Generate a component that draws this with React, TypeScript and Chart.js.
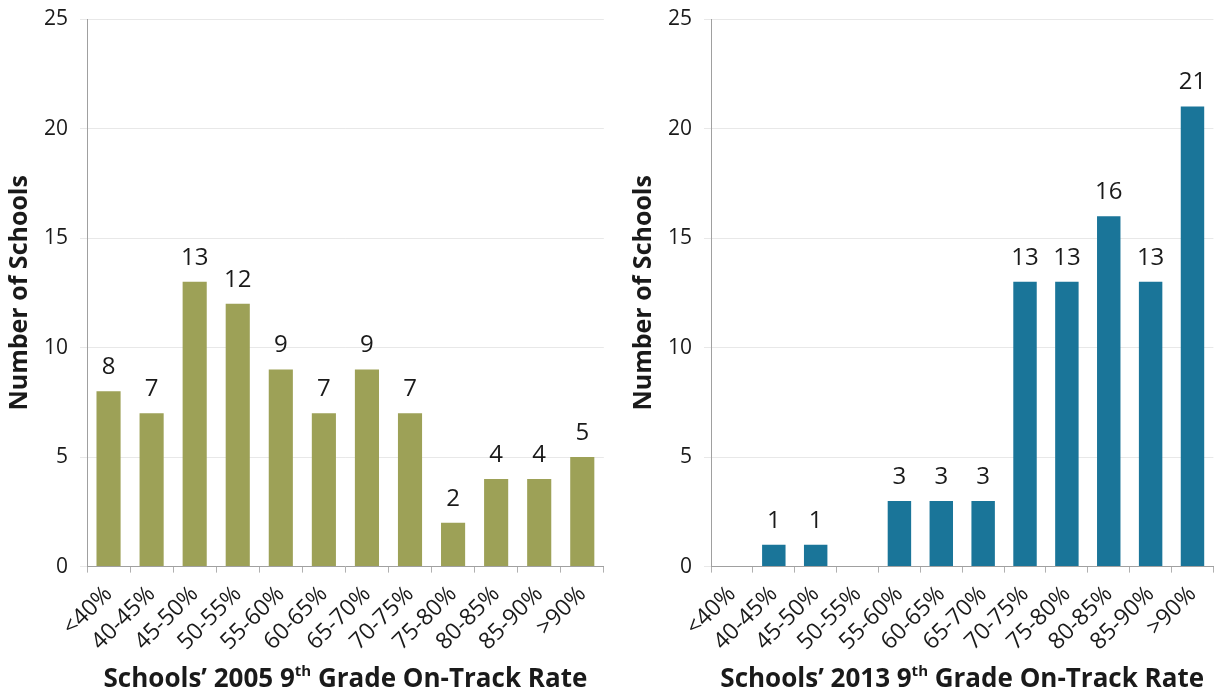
import React, { useEffect, useRef } from "react";
import { Chart, registerables } from "chart.js";

Chart.register(...registerables);

const categories = ["<40%", "40-45%", "45-50%", "50-55%", "55-60%", "60-65%", "65-70%", "70-75%", "75-80%", "80-85%", "85-90%", ">90%"];
const values2005 = [8, 7, 13, 12, 9, 7, 9, 7, 2, 4, 4, 5];
const values2013 = [0, 1, 1, 0, 3, 3, 3, 13, 13, 16, 13, 21];
const yTicks = [0, 5, 10, 15, 20, 25];
const yTitle = "Number of Schools";
const title2005 = ["Schools’ 2005 9", "th", " Grade On-Track Rate"];
const title2013 = ["Schools’ 2013 9", "th", " Grade On-Track Rate"];

const FONT = "'Open Sans', Lato, sans-serif";

const labelPlugin = {
  id: "valueLabels",
  afterDatasetsDraw(chart: any) {
    const ctx = chart.ctx;
    const meta = chart.getDatasetMeta(0);
    const data = chart.data.datasets[0].data;
    ctx.save();
    ctx.font = `24px ${FONT}`;
    ctx.fillStyle = "#1a1a1a";
    ctx.textAlign = "center";
    ctx.textBaseline = "bottom";
    meta.data.forEach((bar: any, i: number) => {
      const v = data[i];
      if (!v) return;
      ctx.fillText(String(v), bar.x, bar.y - 12);
    });
    ctx.restore();
  },
};

const titlePlugin = {
  id: "xTitle",
  afterDraw(chart: any) {
    const parts = chart.options.plugins.xTitle.parts as string[];
    const ctx = chart.ctx;
    const area = chart.chartArea;
    ctx.save();
    const big = `bold 26px ${FONT}`;
    const small = `bold 15px ${FONT}`;
    ctx.font = big;
    const w0 = ctx.measureText(parts[0]).width;
    const w2 = ctx.measureText(parts[2]).width;
    ctx.font = small;
    const w1 = ctx.measureText(parts[1]).width;
    const total = w0 + w1 + w2;
    let x = (area.left + area.right) / 2 - total / 2;
    const y = chart.height - 5;
    ctx.fillStyle = "#1a1a1a";
    ctx.textAlign = "left";
    ctx.textBaseline = "alphabetic";
    ctx.font = big;
    ctx.fillText(parts[0], x, y);
    x += w0;
    ctx.font = small;
    ctx.fillText(parts[1], x, y - 11);
    x += w1;
    ctx.font = big;
    ctx.fillText(parts[2], x, y);
    ctx.restore();
  },
};

function BarChart({ values, color, titleParts, padLeft, padRight }: { values: number[]; color: string; titleParts: string[]; padLeft: number; padRight: number }) {
  const ref = useRef<HTMLCanvasElement>(null);
  useEffect(() => {
    const chart = new Chart(ref.current!, {
      type: "bar",
      data: {
        labels: categories,
        datasets: [
          {
            data: values,
            backgroundColor: color,
            categoryPercentage: 1,
            barPercentage: 0.56,
          },
        ],
      },
      options: {
        animation: false,
        responsive: false,
        layout: { padding: { left: padLeft, right: padRight, top: 0, bottom: 28 } },
        plugins: {
          legend: { display: false },
          tooltip: { enabled: false },
          // @ts-ignore
          xTitle: { parts: titleParts },
        },
        scales: {
          x: {
            offset: true,
            grid: { display: true, drawOnChartArea: false, drawTicks: true, tickLength: 6, color: "#b0b0b0", offset: true },
            border: { display: true, color: "#a0a0a0" },
            ticks: {
              autoSkip: false,
              maxRotation: 45,
              minRotation: 45,
              color: "#1a1a1a",
              font: { family: FONT, size: 23 },
              padding: 8,
            },
          },
          y: {
            min: 0,
            max: 25,
            afterBuildTicks(scale: any) {
              scale.ticks = yTicks.map((v) => ({ value: v }));
            },
            afterFit(scale: any) {
              scale.paddingTop = 19;
            },
            grid: { color: "#e8e8e8", tickLength: 7, drawTicks: true },
            border: { display: true, color: "#a0a0a0" },
            ticks: {
              color: "#1a1a1a",
              font: { family: FONT, size: 21 },
              padding: 12,
            },
            title: {
              display: true,
              text: yTitle,
              color: "#1a1a1a",
              font: { family: FONT, size: 25, weight: "bold", lineHeight: 1.0 },
              padding: { top: 7, bottom: 0 },
            },
          },
        },
      },
      plugins: [labelPlugin, titlePlugin],
    });
    return () => chart.destroy();
  }, []);
  return <canvas ref={ref} width={610} height={692} style={{ display: "block" }} />;
}

export default function App() {
  return (
    <div style={{ position: "absolute", left: 0, top: 0, width: 1220, height: 692, display: "flex", background: "#fff" }}>
      <BarChart values={values2005} color="#9da157" titleParts={title2005} padLeft={0} padRight={5} />
      <BarChart values={values2013} color="#1a7599" titleParts={title2013} padLeft={14} padRight={0} />
    </div>
  );
}
